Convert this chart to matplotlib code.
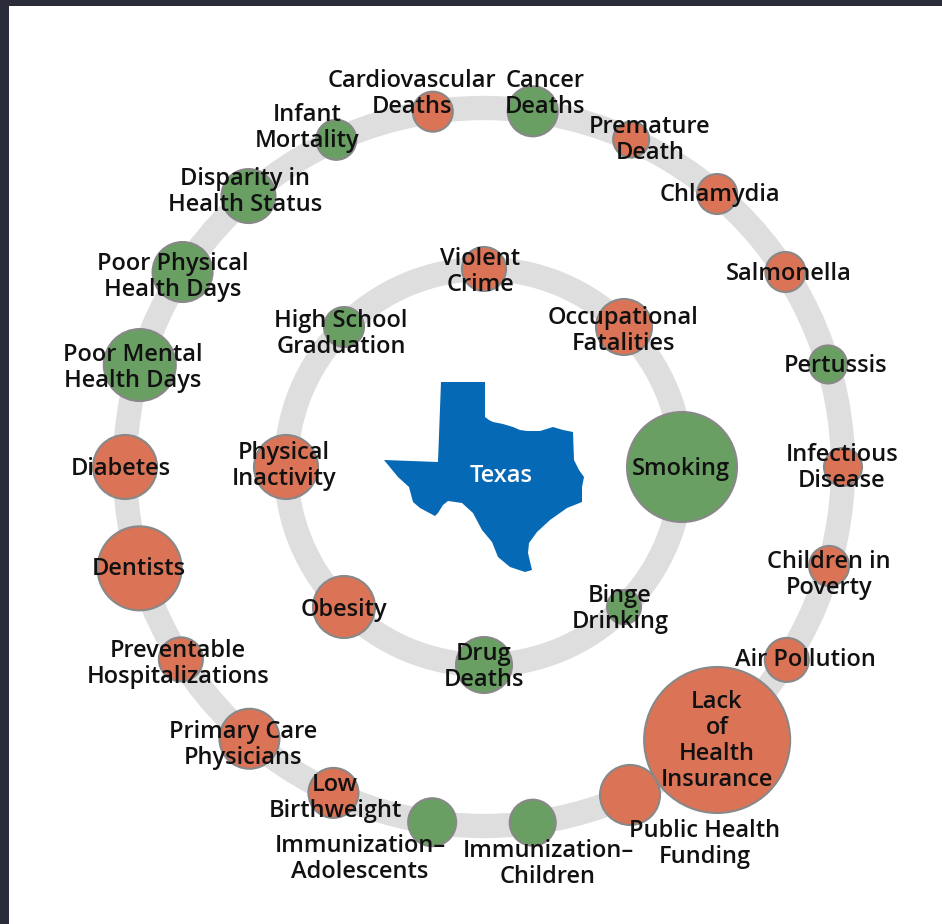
from matplotlib import pyplot as plt
from matplotlib.patches import Circle, Polygon, Rectangle
import numpy as np

# outer ring, clockwise from the top
outer_names = ['Cancer\nDeaths', 'Premature\nDeath', 'Chlamydia', 'Salmonella', 'Pertussis',
               'Infectious\nDisease', 'Children in\nPoverty', 'Air Pollution',
               'Lack\nof\nHealth\nInsurance', 'Public Health\nFunding', 'Immunization\u2013\nChildren',
               'Immunization\u2013\nAdolescents', 'Low\nBirthweight', 'Primary Care\nPhysicians',
               'Preventable\nHospitalizations', 'Dentists', 'Diabetes', 'Poor Mental\nHealth Days',
               'Poor Physical\nHealth Days', 'Disparity in\nHealth Status', 'Infant\nMortality',
               'Cardiovascular\nDeaths']
outer_angles = [7.8, 24.2, 40.5, 57.1, 73.4, 90, 106, 122.5, 139.5, 156, 172.2,
                188.3, 204.8, 220.8, 237.6, 253.6, 270, 286.5, 302.9, 319, 335.7, 351.8]
outer_sizes = [25, 18, 20, 20, 19, 19, 20, 22, 73, 30, 23, 24, 25, 30, 22, 42, 32, 36, 30, 27, 20, 20]
outer_status = ['g', 'r', 'r', 'r', 'g', 'r', 'r', 'r', 'r', 'r', 'g',
                'g', 'r', 'r', 'r', 'r', 'r', 'g', 'g', 'g', 'g', 'r']
outer_label_x = [545, 650, 720, 789, 836, 842, 829, 805, 717, 705, 548, 360, 335, 243, 178, 139, 121, 133, 173, 245, 307, 412]
outer_label_y = [91, 137, 192, 271, 363, 465, 572, 657, 738, 841, 861, 856, 795, 742, 661, 566, 466, 365, 274, 189, 125, 91]

# inner ring
inner_names = ['Violent\nCrime', 'Occupational\nFatalities', 'Smoking', 'Binge\nDrinking',
               'Drug\nDeaths', 'Obesity', 'Physical\nInactivity', 'High School\nGraduation']
inner_angles = [0, 45, 90, 135, 180, 225, 270, 315]
inner_sizes = [22, 28, 55, 17, 28, 31, 32, 20]
inner_status = ['r', 'r', 'g', 'g', 'g', 'r', 'r', 'g']
inner_label_x = [480, 623, 681, 620, 484, 344, 284, 341]
inner_label_y = [269, 328, 466, 606, 664, 607, 463, 331]

# state outline
texas_x = [441, 485, 485, 489, 493, 503, 513, 520, 527, 540, 553, 563, 573, 574, 579, 584, 582, 582,
           567, 550, 537, 529, 528, 532, 525, 510, 498, 492, 482, 473, 462, 448, 443, 438, 435,
           420, 413, 409, 398, 384, 438]
texas_y = [382, 382, 417, 420, 422, 424, 427, 430, 431, 431, 427, 430, 432, 460, 470, 477, 487, 502,
           508, 520, 532, 543, 553, 570, 572, 567, 557, 542, 530, 513, 503, 501, 505, 513, 516,
           508, 502, 487, 477, 460, 462]

colors = {'r': '#DB7357', 'g': '#699F63'}
cx, cy = 484, 467
outer_r, inner_r = 359, 198


def draw_ring(ax, radius, angles, sizes, status):
    ax.add_patch(Circle((cx, cy), radius, fill=False, ec='#DEDEDE', lw=17.5, zorder=1))
    for a, s, st in zip(angles, sizes, status):
        x = cx + radius * np.sin(np.radians(a))
        y = cy - radius * np.cos(np.radians(a))
        ax.add_patch(Circle((x, y), s, fc=colors[st], ec='#888888', lw=1.5, zorder=2))


def draw_labels(ax, names, xs, ys):
    for n, x, y in zip(names, xs, ys):
        ax.text(x, y + 3, n, ha='center', va='center', fontsize=17, family='Open Sans',
                weight='semibold', color='#111111', linespacing=1.1, zorder=3)


def main():
    fig = plt.figure(figsize=(9.42, 9.24), dpi=100)
    ax = fig.add_axes([0, 0, 1, 1])
    ax.set_xlim(0, 942)
    ax.set_ylim(924, 0)
    ax.axis('off')

    # dark window edge
    ax.add_patch(Rectangle((0, 0), 942, 6, fc='#2A2C3A', ec='none'))
    ax.add_patch(Rectangle((0, 0), 9, 924, fc='#2A2C3A', ec='none'))

    draw_ring(ax, outer_r, outer_angles, outer_sizes, outer_status)
    draw_ring(ax, inner_r, inner_angles, inner_sizes, inner_status)

    ax.add_patch(Polygon(np.column_stack([texas_x, texas_y]), closed=True, fc='#0569B5', ec='none', zorder=2))
    ax.text(501, 476, 'Texas', ha='center', va='center', fontsize=17, family='Open Sans',
            weight='semibold', color='white', zorder=3)

    draw_labels(ax, outer_names, outer_label_x, outer_label_y)
    draw_labels(ax, inner_names, inner_label_x, inner_label_y)

    plt.savefig('out.png', dpi=100)


if __name__ == "__main__":
    main()
